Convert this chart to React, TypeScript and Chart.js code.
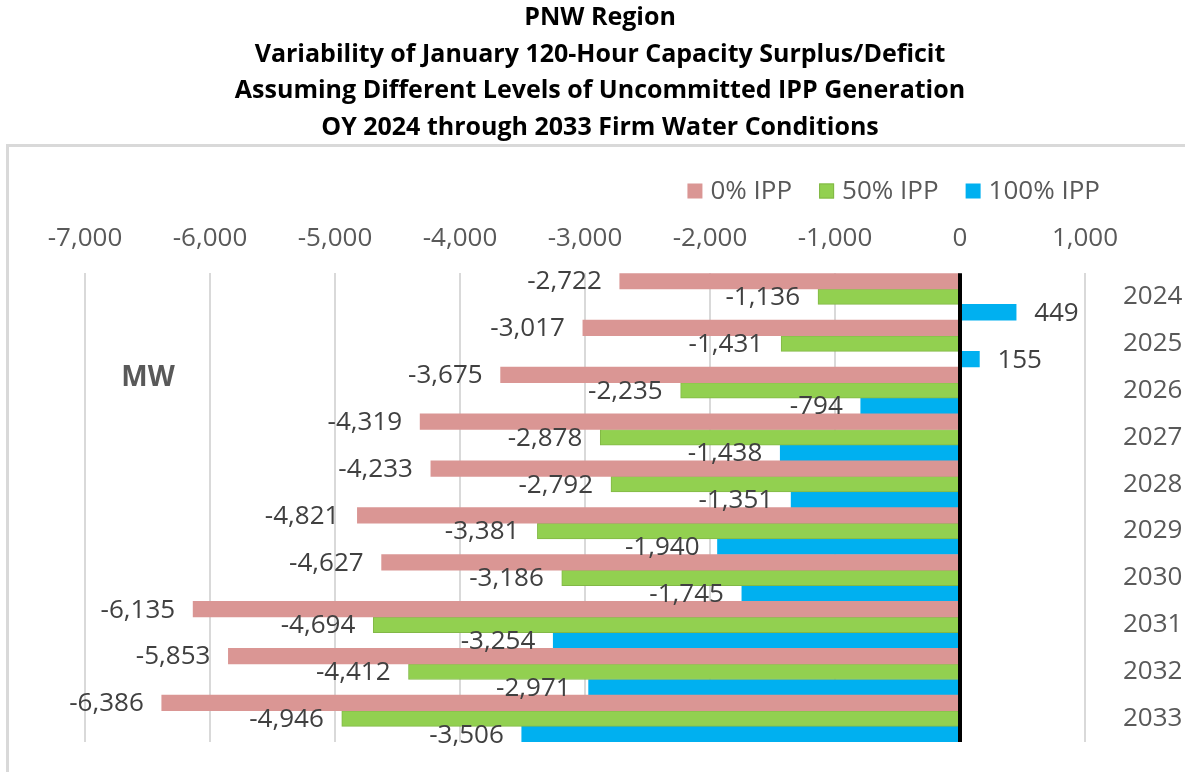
import React, { useEffect, useRef } from "react";
import { Chart, registerables } from "chart.js";

Chart.register(...registerables);

const years = ["2024", "2025", "2026", "2027", "2028", "2029", "2030", "2031", "2032", "2033"];
const ipp0 = [-2722, -3017, -3675, -4319, -4233, -4821, -4627, -6135, -5853, -6386];
const ipp50 = [-1136, -1431, -2235, -2878, -2792, -3381, -3186, -4694, -4412, -4946];
const ipp100 = [449, 155, -794, -1438, -1351, -1940, -1745, -3254, -2971, -3506];
const seriesNames = ["0% IPP", "50% IPP", "100% IPP"];
const seriesColors = ["#DA9694", "#92D050", "#00B0F0"];
const seriesBorders = ["#DA9694", "#82B846", "#00B0F0"];
const titleLines = [
  "PNW Region",
  "Variability of January 120-Hour Capacity Surplus/Deficit",
  "Assuming Different Levels of Uncommitted IPP Generation",
  "OY 2024 through 2033 Firm Water Conditions",
];
const unitLabel = "MW";

const FONT = "'Open Sans', 'Noto Sans', sans-serif";
const fmt = (v: number) => v.toLocaleString("en-US");

const framePlugin = {
  id: "frame",
  beforeDraw(chart: any) {
    const ctx = chart.ctx;
    ctx.save();
    ctx.strokeStyle = "#d9d9d9";
    ctx.lineWidth = 3;
    ctx.strokeRect(7.5, 145.5, chart.width + 20, chart.height + 20);
    ctx.restore();
  },
};

const legendPlugin = {
  id: "customLegend",
  afterDraw(chart: any) {
    const ctx = chart.ctx;
    ctx.save();
    ctx.font = `26px ${FONT}`;
    ctx.textBaseline = "middle";
    ctx.textAlign = "left";
    const box = 15;
    const gapBox = 8;
    const gapItem = 27;
    const rightEnd = 1100;
    const yc = 191;
    const ds = chart.data.datasets;
    const widths = ds.map((d: any) => box + gapBox + ctx.measureText(d.label).width);
    const total = widths.reduce((a: number, b: number) => a + b, 0) + gapItem * (ds.length - 1);
    let x = rightEnd - total;
    ds.forEach((d: any, i: number) => {
      ctx.fillStyle = d.backgroundColor;
      ctx.fillRect(x, yc - box / 2, box, box);
      if (d.borderWidth) {
        ctx.strokeStyle = d.borderColor;
        ctx.lineWidth = 1;
        ctx.strokeRect(x + 0.5, yc - box / 2 + 0.5, box - 1, box - 1);
      }
      ctx.fillStyle = "#595959";
      ctx.fillText(d.label, x + box + gapBox, yc + 1);
      x += widths[i] + gapItem;
    });
    ctx.restore();
  },
};

const overlayPlugin = {
  id: "overlay",
  afterDatasetsDraw(chart: any) {
    const ctx = chart.ctx;
    const area = chart.chartArea;
    const xs = chart.scales.x;
    ctx.save();
    const x0 = Math.round(xs.getPixelForValue(0));
    ctx.strokeStyle = "#000";
    ctx.lineWidth = 4;
    ctx.beginPath();
    ctx.moveTo(x0, area.top);
    ctx.lineTo(x0, area.bottom);
    ctx.stroke();
    ctx.font = `26px ${FONT}`;
    ctx.fillStyle = "#404040";
    ctx.textBaseline = "middle";
    chart.data.datasets.forEach((ds: any, di: number) => {
      const meta = chart.getDatasetMeta(di);
      meta.data.forEach((el: any, i: number) => {
        const v = ds.data[i];
        if (v < 0) {
          ctx.textAlign = "right";
          ctx.fillText(fmt(v), el.x - 18, el.y + 1);
        } else {
          ctx.textAlign = "left";
          ctx.fillText(fmt(v), el.x + 18, el.y + 1);
        }
      });
    });
    ctx.font = `bold 28px ${FONT}`;
    ctx.fillStyle = "#595959";
    ctx.textAlign = "center";
    ctx.fillText(unitLabel, area.left + 63, area.top + 105);
    ctx.restore();
  },
};

export default function App() {
  const ref = useRef<HTMLCanvasElement | null>(null);
  useEffect(() => {
    if (!ref.current) return;
    const chart = new Chart(ref.current, {
      type: "bar",
      data: {
        labels: years,
        datasets: [0, 1, 2].map((k) => ({
          label: seriesNames[k],
          data: [ipp0, ipp50, ipp100][k],
          backgroundColor: seriesColors[k],
          borderColor: seriesBorders[k],
          borderWidth: k === 1 ? 1 : 0,
        })),
      },
      options: {
        indexAxis: "y",
        responsive: false,
        animation: false,
        events: [],
        layout: { padding: { left: 15, bottom: 30, top: 0, right: 0 } },
        datasets: { bar: { categoryPercentage: 1, barPercentage: 1 } },
        scales: {
          x: {
            position: "top",
            min: -7000,
            max: 1000,
            ticks: {
              stepSize: 1000,
              font: { family: FONT, size: 26 },
              color: "#595959",
              padding: 19,
              callback: (v: any) => fmt(Number(v)),
            },
            grid: { color: "#d9d9d9", lineWidth: 2, drawTicks: false },
            border: { display: false },
          },
          y: {
            position: "right",
            grid: { display: false },
            border: { display: false },
            ticks: { font: { family: FONT, size: 26 }, color: "#595959", padding: 30 },
            afterFit: (axis: any) => {
              axis.width = 100;
              axis.paddingTop = 0;
              axis.paddingBottom = 0;
            },
          },
          yl: {
            type: "category",
            position: "left",
            labels: years,
            grid: { display: false },
            border: { display: false },
            ticks: { display: false },
            afterFit: (axis: any) => {
              axis.width = 70;
              axis.paddingTop = 0;
              axis.paddingBottom = 0;
            },
          },
        },
        plugins: {
          title: {
            display: true,
            text: titleLines,
            color: "#000",
            font: { family: FONT, size: 25, weight: "bold", lineHeight: 1.46 },
            padding: { top: 0, bottom: 58 },
          },
          legend: { display: false },
          tooltip: { enabled: false },
        },
      },
      plugins: [framePlugin, overlayPlugin, legendPlugin],
    });
    return () => chart.destroy();
  }, []);
  return (
    <div style={{ position: "fixed", left: 0, top: 0, width: 1185, height: 772, background: "#fff" }}>
      <canvas ref={ref} width={1185} height={772} />
    </div>
  );
}
